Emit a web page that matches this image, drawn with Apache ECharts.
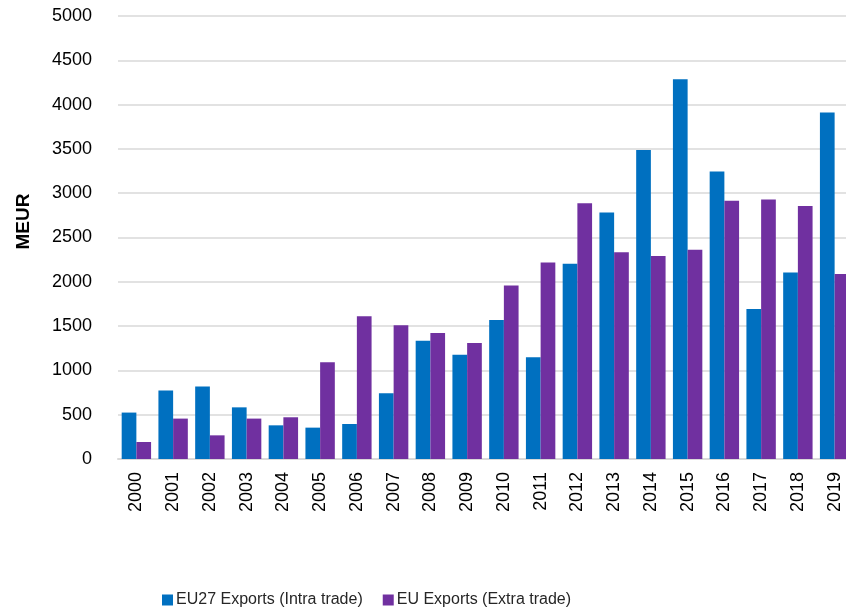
<!DOCTYPE html>
<html lang="en">

<head>
    <meta charset="UTF-8">
    <title>EU Exports</title>
    <script src="https://cdn.jsdelivr.net/npm/echarts@6/dist/echarts.min.js"></script>
    <style>
        body,
        html {
            padding: 0;
            margin: 0;
            background: #fff;
        }

        #chart-panel {
            height: 612px;
            width: 846px;
        }
    </style>
</head>

<body>
    <div id="chart-panel"></div>
    <script>
        // years on the x axis
        var years = ['2000', '2001', '2002', '2003', '2004', '2005', '2006', '2007', '2008', '2009',
            '2010', '2011', '2012', '2013', '2014', '2015', '2016', '2017', '2018', '2019'];
        // EU27 Exports (Intra trade), MEUR
        var intraTrade = [524, 772, 817, 583, 380, 354, 395, 742, 1336, 1178,
            1569, 1148, 2205, 2781, 3488, 4285, 3244, 1693, 2104, 3910];
        // EU Exports (Extra trade), MEUR
        var extraTrade = [192, 456, 267, 456, 471, 1091, 1611, 1509, 1422, 1309,
            1957, 2217, 2886, 2333, 2291, 2363, 2916, 2928, 2856, 2088];

        var font = '"Liberation Sans", Arial, sans-serif';

        var option = {
            backgroundColor: '#fff',
            animation: false,
            grid: {
                left: 118,
                width: 735,
                top: 16,
                bottom: 153,
                outerBoundsMode: 'none'
            },
            legend: {
                left: 157,
                top: 587,
                itemWidth: 11,
                itemHeight: 11,
                itemGap: 20,
                icon: 'rect',
                textStyle: {
                    fontFamily: font,
                    fontSize: 16,
                    color: '#262626',
                    padding: [0, 0, 0, -2]
                }
            },
            xAxis: {
                type: 'category',
                data: years,
                axisTick: { show: false },
                axisLine: { lineStyle: { color: '#d9d9d9', width: 2 } },
                axisLabel: {
                    rotate: 90,
                    margin: 13,
                    fontFamily: font,
                    fontSize: 18,
                    color: '#000'
                }
            },
            yAxis: {
                type: 'value',
                min: 0,
                max: 5000,
                interval: 500,
                name: 'MEUR',
                nameLocation: 'middle',
                nameGap: 85,
                nameTextStyle: {
                    fontFamily: font,
                    fontSize: 19,
                    fontWeight: 'bold',
                    color: '#000',
                    padding: [0, 0, 0, 32]
                },
                axisLine: { show: false },
                axisTick: { show: false },
                splitLine: { lineStyle: { color: '#d9d9d9', width: 1.5 } },
                axisLabel: {
                    margin: 26,
                    fontFamily: font,
                    fontSize: 18,
                    color: '#000',
                    formatter: function (v) { return String(v); }
                }
            },
            series: [
                {
                    name: 'EU27 Exports (Intra trade)',
                    type: 'bar',
                    data: intraTrade,
                    barGap: '0%',
                    barCategoryGap: '20%',
                    itemStyle: { color: '#0070C0' }
                },
                {
                    name: 'EU Exports (Extra trade)',
                    type: 'bar',
                    data: extraTrade,
                    barGap: '0%',
                    barCategoryGap: '20%',
                    itemStyle: { color: '#7030A0' }
                }
            ]
        };

        var chartVM = echarts.init(document.getElementById('chart-panel'));
        chartVM.setOption(option);
    </script>
</body>

</html>
